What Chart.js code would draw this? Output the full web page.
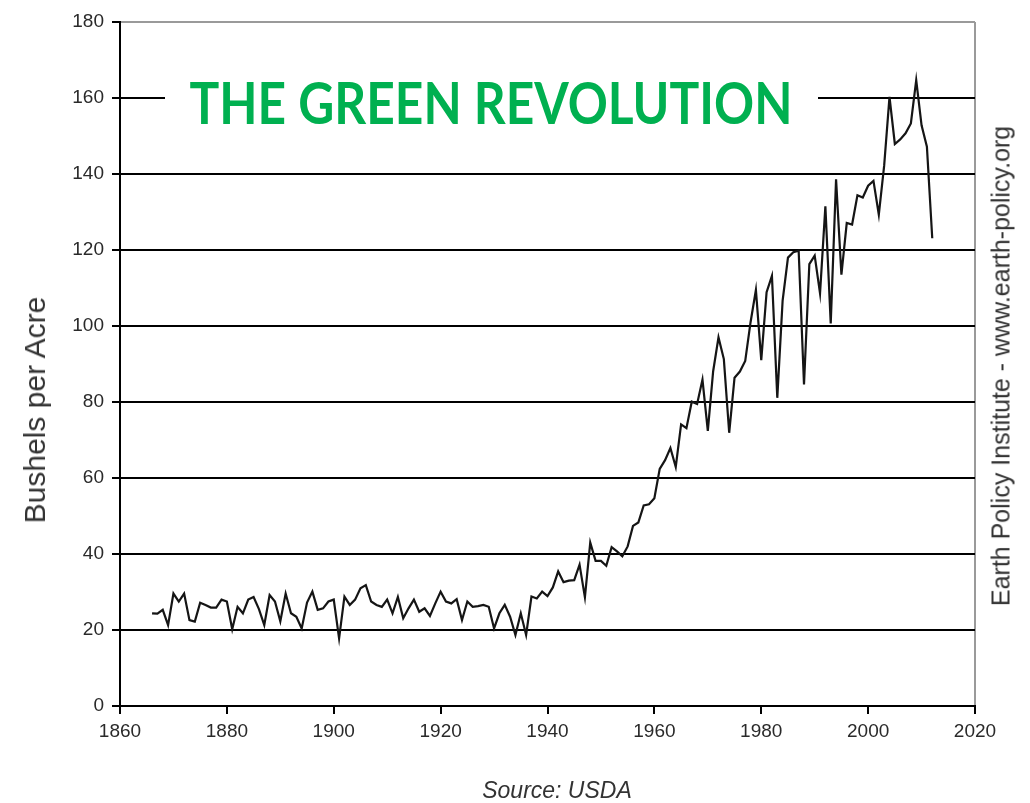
<!DOCTYPE html>
<html>
<head>
<meta charset="utf-8">
<script src="https://cdn.jsdelivr.net/npm/chart.js@4/dist/chart.umd.min.js"></script>
<style>
html,body{margin:0;padding:0;background:#fff;}
#wrap{position:relative;width:1030px;height:803px;overflow:hidden;background:#fff;}
#c{position:absolute;left:0;top:0;}
.ov{position:absolute;font-family:"Liberation Sans",Arial,sans-serif;color:#333;white-space:nowrap;}
#titlebox{position:absolute;left:165px;top:72px;width:653px;height:58px;background:#fff;}
#title{position:absolute;left:491px;top:73px;font-family:"Lato",sans-serif;font-weight:700;font-size:58px;line-height:58px;color:#00B050;white-space:nowrap;transform-origin:center center;}
#source{left:557px;top:790px;font-size:23px;font-style:italic;transform:translate(-50%,-50%);}
#side{left:1001px;top:366px;font-size:25px;transform:translate(-50%,-50%) rotate(-90deg);}
#ytitle{left:35px;top:410px;font-size:30px;transform:translate(-50%,-50%) rotate(-90deg);}
</style>
</head>
<body>
<div id="wrap">
<canvas id="c" width="1030" height="803"></canvas>
<div id="titlebox"></div>
<div id="title">THE GREEN REVOLUTION</div>
<div class="ov" id="ytitle">Bushels per Acre</div>
<div class="ov" id="source">Source: USDA</div>
<div class="ov" id="side">Earth Policy Institute - www.earth-policy.org</div>
</div>
<script>
const years = [
1866,1867,1868,1869,1870,1871,1872,1873,1874,1875,1876,1877,1878,1879,
1880,1881,1882,1883,1884,1885,1886,1887,1888,1889,1890,1891,1892,1893,1894,1895,1896,1897,1898,1899,
1900,1901,1902,1903,1904,1905,1906,1907,1908,1909,1910,1911,1912,1913,1914,1915,1916,1917,1918,1919,
1920,1921,1922,1923,1924,1925,1926,1927,1928,1929,1930,1931,1932,1933,1934,1935,1936,1937,1938,1939,
1940,1941,1942,1943,1944,1945,1946,1947,1948,1949,1950,1951,1952,1953,1954,1955,1956,1957,1958,1959,
1960,1961,1962,1963,1964,1965,1966,1967,1968,1969,1970,1971,1972,1973,1974,1975,1976,1977,1978,1979,
1980,1981,1982,1983,1984,1985,1986,1987,1988,1989,1990,1991,1992,1993,1994,1995,1996,1997,1998,1999,
2000,2001,2002,2003,2004,2005,2006,2007,2008,2009,2010,2011,2012
];
const yieldsBushelsPerAcre = [
24.4,24.3,25.3,21.3,29.6,27.5,29.6,22.6,22.2,27.2,26.6,25.9,25.9,28.0,
27.5,20.2,26.1,24.4,28.0,28.7,25.5,21.3,29.2,27.5,22.3,29.6,24.4,23.5,20.4,27.2,30.1,25.3,25.7,27.5,
28.0,17.8,28.8,26.6,28.0,31.0,31.8,27.5,26.6,26.1,28.0,24.4,28.7,23.1,25.7,28.0,24.8,25.7,23.7,27.0,
30.1,27.5,27.0,28.1,22.6,27.5,26.1,26.3,26.6,26.1,20.4,24.4,26.6,23.5,18.7,24.4,18.7,28.8,28.3,30.1,
28.9,31.2,35.4,32.6,33.0,33.1,37.2,28.6,43.0,38.2,38.2,36.9,41.8,40.7,39.4,42.0,47.4,48.3,52.8,53.1,
54.7,62.4,64.7,67.9,62.9,74.1,73.1,80.1,79.5,85.9,72.4,88.1,97.0,91.3,71.9,86.4,88.0,90.8,101.0,109.5,
91.0,108.9,113.2,81.1,106.7,118.0,119.4,119.8,84.6,116.3,118.5,108.6,131.5,100.7,138.6,113.5,127.1,126.7,134.4,133.8,
136.9,138.2,129.3,142.2,160.3,147.9,149.1,150.7,153.3,164.7,152.8,147.2,123.1
];
const xTickValues = [1860,1880,1900,1920,1940,1960,1980,2000,2020];
const yTickValues = [0,20,40,60,80,100,120,140,160,180];

const points = years.map((yr, i) => ({x: yr, y: yieldsBushelsPerAcre[i]}));

new Chart(document.getElementById('c'), {
  type: 'line',
  data: { datasets: [{
    data: points, borderColor: '#151515', borderWidth: 2.2, pointRadius: 0,
    tension: 0, fill: false
  }]},
  options: {
    responsive: false, animation: false, events: [],
    layout: { padding: { top: 22, right: 55, left: 0, bottom: 0 } },
    plugins: { legend: { display: false }, tooltip: { enabled: false } },
    scales: {
      x: {
        type: 'linear', min: 1860, max: 2020,
        afterFit(s) { s.height = 97; },
        afterBuildTicks(s) { s.ticks = xTickValues.map(v => ({value: v})); },
        ticks: { autoSkip: false, maxRotation: 0, padding: 6, color: '#2a2a2a',
          font: { family: 'Liberation Sans', size: 19 }, callback: v => String(v) },
        grid: { color: c => (c.tick && c.tick.value === 2020) ? '#9a9a9a' : 'rgba(0,0,0,0)',
          lineWidth: 2, tickColor: '#000', tickLength: 8, tickWidth: 2 },
        border: { color: '#000', width: 2 }
      },
      y: {
        min: 0, max: 180,
        afterFit(s) { s.width = 120; },
        afterBuildTicks(s) { s.ticks = yTickValues.map(v => ({value: v})); },
        ticks: { padding: 8, color: '#2a2a2a', font: { family: 'Liberation Sans', size: 19 } },
        grid: { color: c => (c.tick && c.tick.value === 180) ? '#9a9a9a' : '#000',
          lineWidth: 2, tickColor: '#000', tickLength: 8, tickWidth: 2 },
        border: { color: '#000', width: 2 }
      }
    }
  }
});

(function fitTitle(){
  const t = document.getElementById('title');
  const w = t.getBoundingClientRect().width;
  const s = 603 / w;
  t.style.transform = 'translateX(-50%) scaleX(' + s + ')';
})();
</script>
</body>
</html>
